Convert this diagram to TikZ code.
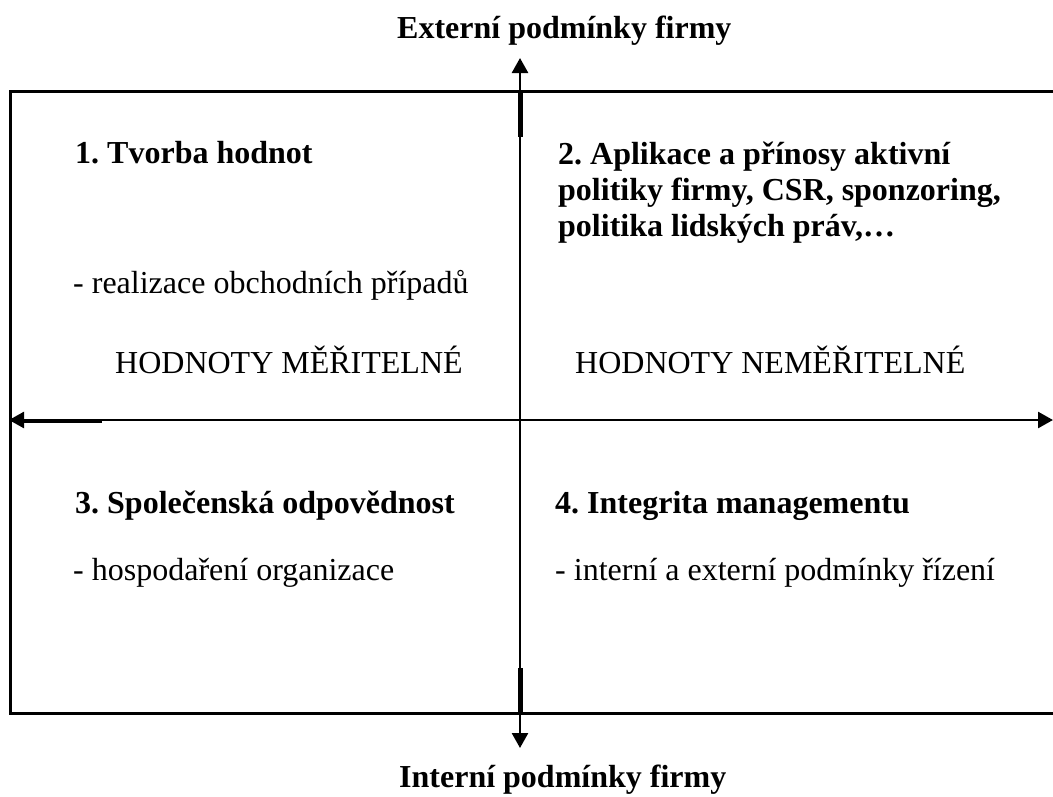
\documentclass[tikz,border=0pt]{standalone}
\usepackage{fontspec}
\setmainfont{Liberation Serif}
\usetikzlibrary{arrows.meta}
\begin{document}
\frenchspacing
\begin{tikzpicture}[x=1pt,y=-1pt,
  txt/.style={inner sep=0pt,anchor=base west,font=\fontsize{32}{36}\selectfont\frenchspacing},
  head/.style={txt,font=\fontsize{32}{36}\selectfont\bfseries\frenchspacing},
  ttl/.style={inner sep=0pt,anchor=base west,font=\fontsize{32}{36}\selectfont\bfseries},
  frame/.style={line width=3pt},
  axis/.style={line width=2.6pt,{Triangle[length=15pt,width=16pt]}-{Triangle[length=15pt,width=16pt]}},
  thickseg/.style={line width=5pt}]
\useasboundingbox (0,0) rectangle (1053,796);
\fill[white] (0,0) rectangle (1053,796);
% frame (right side runs off the picture)
\draw[frame] (1060,91) -- (10,91) -- (10,713) -- (1060,713);
% axes
\coordinate (vt) at (520,58);
\coordinate (vb) at (520,748);
\coordinate (hl) at (9,420);
\coordinate (hr) at (1053,420);
\draw[axis] (vt) -- (vb);
\draw[axis] (hl) -- (hr);
% overlapping segments
\coordinate (s1a) at (520,91); \coordinate (s1b) at (520,137);
\coordinate (s2a) at (520,668); \coordinate (s2b) at (520,713);
\coordinate (s3a) at (20,421); \coordinate (s3b) at (102,421);
\draw[thickseg] (s1a) -- (s1b);
\draw[thickseg] (s2a) -- (s2b);
\draw[line width=4pt] (s3a) -- (s3b);
% titles
\node[ttl] (ext) at (397,38) {Externí podmínky firmy};
\node[ttl] (int) at (399,787) {Interní podmínky firmy};
% quadrant 1
\node[head] (q1) at (75,163) {1. Tvorba hodnot};
\node[txt] (q1a) at (73,293) {- realizace obchodních případů};
\node[txt] (q1b) at (115,373) {HODNOTY MĚŘITELNÉ};
% quadrant 2
\node[head] (q2l1) at (558,164) {2. Aplikace a přínosy aktivní};
\node[head] (q2l2) at (558,200) {politiky firmy, CSR, sponzoring,};
\node[head] (q2l3) at (558,236) {politika lidských práv,…};
\node[txt] (q2b) at (575,373) {HODNOTY NEMĚŘITELNÉ};
% quadrant 3
\node[head] (q3) at (75,513) {3. Společenská odpovědnost};
\node[txt] (q3a) at (73,580) {- hospodaření organizace};
% quadrant 4
\node[head] (q4) at (555,513) {4. Integrita managementu};
\node[txt] (q4a) at (555,580) {- interní a externí podmínky řízení};
\end{tikzpicture}
\end{document}
